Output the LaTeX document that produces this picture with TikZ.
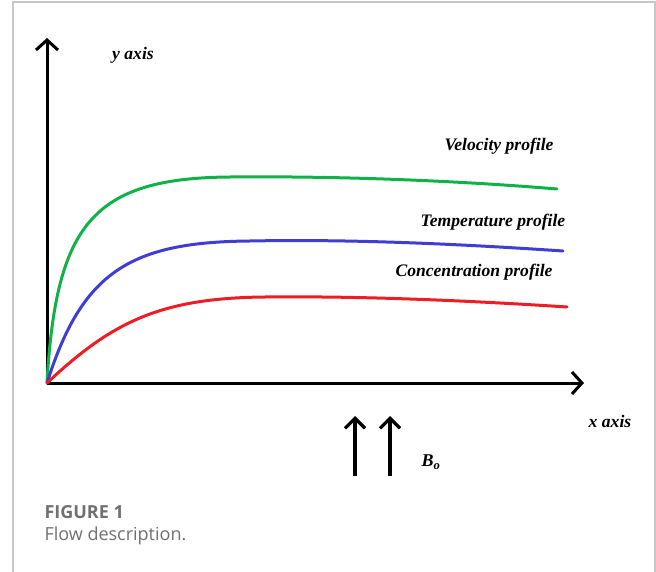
\documentclass[tikz,border=0pt]{standalone}
\usepackage{fontspec}
\setmainfont{Liberation Serif}
\newfontfamily\capfont{Open Sans}
\usetikzlibrary{arrows.meta, positioning, calc}
\definecolor{velgreen}{RGB}{16,178,72}
\definecolor{tempblue}{RGB}{62,62,214}
\definecolor{concred}{RGB}{238,28,36}
\definecolor{capgray}{RGB}{112,112,112}
\tikzset{
  every picture/.style={line width=3pt},
  axis/.style={draw=black, -{Straight Barb[length=10pt, width=22pt]}},
  field/.style={draw=black, line width=3.2pt, -{Straight Barb[length=10pt, width=20pt]}},
  profile/.style={line cap=round, line width=3pt},
  lbl/.style={font=\fontsize{17.6}{19}\selectfont\bfseries\itshape, inner sep=0pt},
  caption/.style={font=\capfont\fontsize{18}{20}\selectfont, text=capgray, inner sep=0pt, anchor=west}
}

\begin{document}
\begin{tikzpicture}[x=1pt, y=-1pt]
    \useasboundingbox (0,0) rectangle (656,572);
    % frame
    \draw[black!22, line width=1.4pt] (13,572) -- (13,2) -- (655,2) -- (655,572);

    % axes
    \coordinate (O) at (47,383);
    \coordinate (ytip) at (47,38);
    \coordinate (xtip) at (584,383);
    \draw[axis] (O) -- (ytip);
    \draw[axis] (O) -- (xtip);

    % profiles
    \draw[profile, velgreen] (O) .. controls (56,225) and (92,178) .. (230,177)
                                 .. controls (330,176) and (450,180) .. (557,189);
    \draw[profile, tempblue] (O) .. controls (82,272) and (130,242) .. (250,241)
                                 .. controls (350,239) and (460,244) .. (563,251);
    \draw[profile, concred]  (O) .. controls (112,322) and (160,298) .. (265,297)
                                 .. controls (355,296) and (460,300) .. (567,307);

    % labels
    \node[lbl] (ylab) at (133,55) {y axis};
    \node[lbl] (xlab) at (610,421) {x axis};
    \node[lbl] (vel) at (499,146) {Velocity profile};
    \node[lbl] (temp) at (493,222) {Temperature profile};
    \node[lbl] (conc) at (474,272) {Concentration profile};

    % magnetic field
    \coordinate (b1s) at (355,476);
    \coordinate (b1e) at (355,416);
    \coordinate (b2s) at (390,476);
    \coordinate (b2e) at (390,416);
    \draw[field] (b1s) -- (b1e);
    \draw[field] (b2s) -- (b2e);
    \node[lbl, font=\fontsize{18}{19}\selectfont\bfseries\itshape] (bo) at (431,462) {B\textsubscript{o}};

    % caption
    \node[caption, font=\capfont\bfseries\fontsize{18}{20}\selectfont] (fig) at (43,512) {FIGURE 1};
    \node[caption] (desc) at (43,536) {Flow description.};
\end{tikzpicture}
\end{document}
